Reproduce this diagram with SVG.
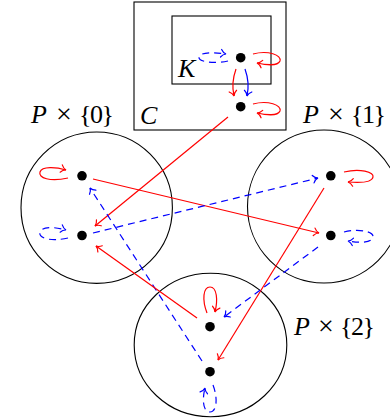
<svg xmlns="http://www.w3.org/2000/svg" width="390" height="420" viewBox="0 0 390 420">
<style>
.frame{fill:none;stroke:#000;stroke-width:1.1}
.dot{fill:#000}
.lbl{font-family:"Liberation Serif",serif;font-size:26px;fill:#000}
.it{font-style:italic}
.x{font-size:28px}
.s{letter-spacing:-1.5px}
.r{fill:none;stroke:#ff0000;stroke-width:1.2;marker-end:url(#ar)}
.b{fill:none;stroke:#0000ff;stroke-width:1.2;marker-end:url(#ab)}
.d{stroke-dasharray:7 5}
</style>
<defs>
<marker id="ar" markerUnits="userSpaceOnUse" markerWidth="12" markerHeight="12" viewBox="-6 -6 12 12" refX="0" refY="0" orient="auto">
<path d="M-5,-3.8 C-3.5,-1.5 -1.2,-0.3 0,0 C-1.2,0.3 -3.5,1.5 -5,3.8" fill="none" stroke="#ff0000" stroke-width="1.2" stroke-linecap="round"/>
</marker>
<marker id="ab" markerUnits="userSpaceOnUse" markerWidth="12" markerHeight="12" viewBox="-6 -6 12 12" refX="0" refY="0" orient="auto">
<path d="M-5,-3.8 C-3.5,-1.5 -1.2,-0.3 0,0 C-1.2,0.3 -3.5,1.5 -5,3.8" fill="none" stroke="#0000ff" stroke-width="1.2" stroke-linecap="round"/>
</marker>
</defs>

<g id="C">
<rect class="frame" x="134" y="2" width="152" height="128"/>
<text class="lbl it" x="140" y="124">C</text>
</g>
<g id="K">
<rect class="frame" x="172" y="16" width="99" height="68"/>
<text class="lbl it" x="178" y="77">K</text>
</g>
<g id="P0">
<circle class="frame" cx="96.7" cy="207.7" r="75.7"/>
<text class="lbl" y="122.7"><tspan class="it" x="31">P</tspan><tspan class="x" x="56">×</tspan><tspan class="s" x="79">{0}</tspan></text>
</g>
<g id="P1">
<circle class="frame" cx="324" cy="206.5" r="76.5"/>
<text class="lbl" y="122.7"><tspan class="it" x="303">P</tspan><tspan class="x" x="328">×</tspan><tspan class="s" x="351">{1}</tspan></text>
</g>
<g id="P2">
<ellipse class="frame" cx="210.5" cy="345" rx="76.3" ry="71.8"/>
<text class="lbl" y="335"><tspan class="it" x="294">P</tspan><tspan class="x" x="318">×</tspan><tspan class="s" x="340">{2}</tspan></text>
</g>

<g id="nodes">
<circle id="k" class="dot" cx="240.7" cy="57.7" r="4.8"/>
<circle id="c" class="dot" cx="240.7" cy="106.7" r="4.8"/>
<circle id="p0a" class="dot" cx="82" cy="175.8" r="4.8"/>
<circle id="p0b" class="dot" cx="82" cy="235.5" r="4.8"/>
<circle id="p1a" class="dot" cx="330.8" cy="175.8" r="4.8"/>
<circle id="p1b" class="dot" cx="330.8" cy="235.5" r="4.8"/>
<circle id="p2a" class="dot" cx="210" cy="326.7" r="4.8"/>
<circle id="p2b" class="dot" cx="210" cy="371.7" r="4.8"/>
</g>

<g id="connectors">
<path class="r" d="M236,69 Q231,83 234,96"/>
<path class="b" d="M245,69 Q250,83 247,96"/>
<path class="b d" d="M228,61 C214,64 198,62 199,57 C200,52 213,52 226,54"/>
<path class="r" d="M253,54 C268,50 282,55 280,61 C278,66 266,65 257,63"/>
<path class="r" d="M253,104 C268,100 282,105 280,111 C278,116 266,115 257,113"/>
<path class="r" d="M228,117 L95,226"/>
<path class="r" d="M68,178 C50,182 38,178 40,172 C42,166 56,167 66,170"/>
<path class="b d" d="M68,238 C50,242 38,238 40,232 C42,226 56,227 66,230"/>
<path class="r" d="M93,179 L319,233"/>
<path class="b d" d="M93,233 L318,178"/>
<path class="b d" d="M202,361 L90,188"/>
<path class="r" d="M197,318 L96,246"/>
<path class="r" d="M324,188 L218,360"/>
<path class="b d" d="M318,247 L224,317"/>
<path class="r" d="M344,172 C360,168 374,172 373,177 C372,183 360,183 348,182"/>
<path class="b d" d="M344,232 C360,228 374,232 373,237 C372,243 360,243 348,241"/>
<path class="r" d="M207,313 C202,300 203,287 210,287 C217,287 218,300 215,312"/>
<path class="b d" d="M213,385 C218,398 217,412 210,412 C203,412 202,400 205,388"/>
</g>
</svg>
